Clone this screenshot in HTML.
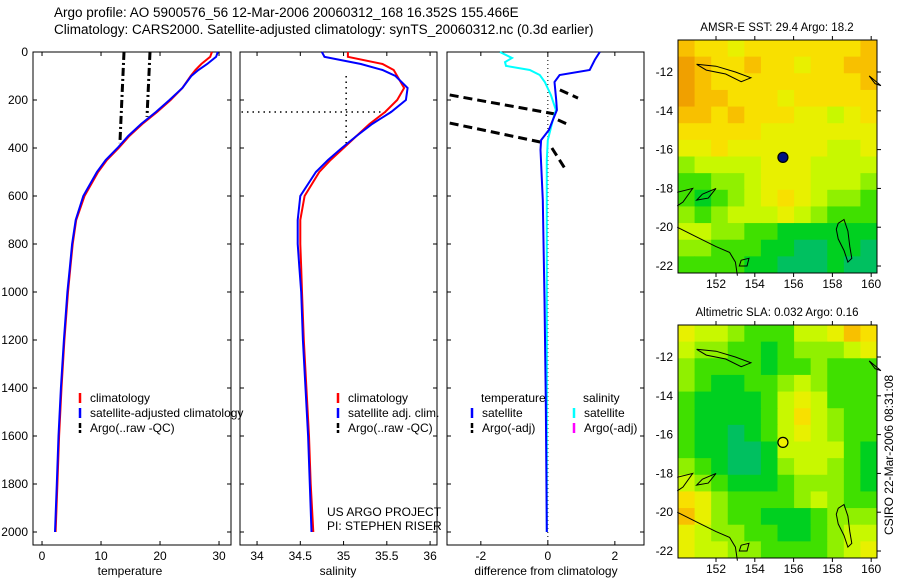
<!DOCTYPE html>
<html><head><meta charset="utf-8"><style>
body{margin:0;background:#fff;}
svg{display:block;font-family:"Liberation Sans",sans-serif;}
text{font-size:12px;fill:#000;}
</style></head><body>
<svg id="c" width="900" height="580" viewBox="0 0 900 580">
<text x="54" y="17" style="font-size:13.5px">Argo profile: AO 5900576_56 12-Mar-2006 20060312_168 16.352S 155.466E</text>
<text x="54" y="34" style="font-size:13.5px">Climatology: CARS2000. Satellite-adjusted climatology: synTS_20060312.nc (0.3d earlier)</text>
<text x="130" y="575" text-anchor="middle">temperature</text>
<text x="338" y="575" text-anchor="middle">salinity</text>
<text x="546" y="575" text-anchor="middle">difference from climatology</text>
<text x="327" y="516">US ARGO PROJECT</text>
<text x="327" y="530">PI: STEPHEN RISER</text>
<text x="777" y="31" text-anchor="middle" style="font-size:11.5px">AMSR-E SST: 29.4 Argo: 18.2</text>
<text x="777" y="316" text-anchor="middle" style="font-size:11.5px">Altimetric SLA: 0.032 Argo: 0.16</text>
<text transform="translate(893,455) rotate(-90)" text-anchor="middle">CSIRO 22-Mar-2006 08:31:08</text>
</svg>
<script>
// ---- data ----
const depth=[0,20,50,75,100,150,200,250,300,350,400,450,500,600,700,800,900,1000,1200,1400,1600,1800,2000];
const tempClim=[28.8,28.5,27.0,26.0,25.2,23.8,21.8,19.5,17.0,14.8,13.0,11.0,9.5,7.2,5.8,5.2,4.8,4.4,3.8,3.3,2.9,2.6,2.3];
const tempSat=[29.8,29.5,28.0,26.5,25.3,23.8,21.6,19.3,16.8,14.6,12.8,10.8,9.3,7.0,5.7,5.1,4.7,4.3,3.7,3.2,2.8,2.5,2.2];
const salClim=[35.05,35.05,35.45,35.58,35.62,35.70,35.62,35.48,35.3,35.15,35.0,34.85,34.72,34.55,34.5,34.5,34.51,34.52,34.54,34.57,34.6,34.62,34.65];
const salSat=[34.75,34.78,35.2,35.45,35.6,35.74,35.72,35.55,35.33,35.15,34.98,34.82,34.68,34.5,34.47,34.47,34.49,34.51,34.53,34.56,34.59,34.61,34.63];
const depthTD=[0,33,75,96,125,200,242,283,325,367,408,617,1033,1450,2000];
const tempDiff=[1.55,1.4,1.25,0.35,0.2,0.25,0.27,0.15,0.03,-0.2,-0.22,-0.15,-0.1,-0.06,-0.03];
const depthSD=[0,25,42,58,75,96,125,179,242,283,367,450,1000,2000];
const salDiff=[-1.43,-1.07,-1.28,-1.25,-0.54,-0.24,-0.09,0.09,0.24,0.15,0,-0.03,-0.03,-0.03];
const argoTempA=[[0,13.9],[380,13.2]];
const argoTempB=[[0,18.3],[270,17.8]];
const argoDiffSegs=[[179,-2.93,262,0.36],[296,-2.93,379,-0.09],[158,0.36,192,0.9],[283,0.3,300,0.57],[400,0.12,483,0.5]];
const depthTicks=[0,200,400,600,800,1000,1200,1400,1600,1800,2000];
const tempTicks=[0,10,20,30];
const salTicks=[34,34.5,35,35.5,36];
const diffTicks=[-2,0,2];
const lonTicks=[152,154,156,158,160];
const latTicks=[-12,-14,-16,-18,-20,-22];
const sstGrid=["877677777778","987787767788","987777777778","988777677777","887877766567","777776666666","667666666556","455556665555","334456665554","323456765443","434555654333","554433222222","443332211221","333322111211"];
const slaGrid=["655433355687","544332344456","433332334333","432233454333","322223565333","322223575433","322123565433","322112555532","432112455432","543222344432","764333345433","864332223444","654433223455","655443333456"];
const palette=["#00b0a0","#00c060","#00d020","#40e000","#90f000","#c8f800","#e8f000","#f8e000","#f8c000","#f0a000"];

const NS="http://www.w3.org/2000/svg";
const svg=document.getElementById('c');
function mk(tag,attrs,parent){const e=document.createElementNS(NS,tag);for(const k in attrs)e.setAttribute(k,attrs[k]);(parent||svg).appendChild(e);return e;}
const yD=d=>52+d*0.24;
const FB=545;
const P1={x0:33,x1:231,v0:-1.53,v1:32.03};
const P2={x0:240,x1:437,v0:33.803,v1:36.08};
const P3={x0:447,x1:644,v0:-3.01,v1:2.87};
const sx=(p,v)=>p.x0+(v-p.v0)/(p.v1-p.v0)*(p.x1-p.x0);

function frame(p,name,ticks,labelLeft){
  const r=mk('rect',{x:p.x0,y:52,width:p.x1-p.x0,height:FB-52,fill:'none',stroke:'#000','stroke-width':1});
  
  
  ticks.forEach(t=>{const x=sx(p,t);
    mk('line',{x1:x,x2:x,y1:52,y2:56,stroke:'#000'});mk('line',{x1:x,x2:x,y1:FB-4,y2:FB,stroke:'#000'});
    const tx=mk('text',{x:x,y:560,'text-anchor':'middle'});tx.textContent=t;
    
    });
  depthTicks.forEach(d=>{const y=yD(d);
    mk('line',{x1:p.x0,x2:p.x0+4,y1:y,y2:y,stroke:'#000'});mk('line',{x1:p.x1-4,x2:p.x1,y1:y,y2:y,stroke:'#000'});
    if(labelLeft){const tx=mk('text',{x:28,y:y+4,'text-anchor':'end'});tx.textContent=d;
      
      }});
}
function line(p,vals,deps,color,w,name,dash){
  const pts=vals.map((v,i)=>sx(p,v).toFixed(1)+','+yD(deps[i]).toFixed(1)).join(' ');
  const e=mk('polyline',{points:pts,fill:'none',stroke:color,'stroke-width':w});
  if(dash)e.setAttribute('stroke-dasharray',dash);
  
  
}
frame(P1,'temperature-panel',tempTicks,true);
frame(P2,'salinity-panel',salTicks,false);
frame(P3,'difference-panel',diffTicks,false);
const zl=mk('line',{x1:sx(P3,0),x2:sx(P3,0),y1:52,y2:FB,stroke:'#000','stroke-dasharray':'1,3'});



line(P1,argoTempA.map(a=>a[1]),argoTempA.map(a=>a[0]),'#000',3,'argo-temperature-raw-a','8,3,2,3');
line(P1,argoTempB.map(a=>a[1]),argoTempB.map(a=>a[0]),'#000',3,'argo-temperature-raw-b','8,3,2,3');
line(P1,tempClim,depth,'#f00',2,'temperature-climatology-line');
line(P1,tempSat,depth,'#00f',2,'temperature-satellite-line');

const vd=mk('line',{x1:sx(P2,35.03),x2:sx(P2,35.03),y1:yD(100),y2:yD(380),stroke:'#000','stroke-dasharray':'1.5,4','stroke-width':1.5});


const hd=mk('line',{x1:sx(P2,33.82),x2:sx(P2,35.55),y1:yD(250),y2:yD(250),stroke:'#000','stroke-dasharray':'1.5,4','stroke-width':1.5});


line(P2,salClim,depth,'#f00',2,'salinity-climatology-line');
line(P2,salSat,depth,'#00f',2,'salinity-satellite-line');

argoDiffSegs.forEach(s=>{
  const e=mk('line',{x1:sx(P3,s[1]),y1:yD(s[0]),x2:sx(P3,s[3]),y2:yD(s[2]),stroke:'#000','stroke-width':3,'stroke-dasharray':'9,5'});
  
  
});
line(P3,salDiff,depthSD,'#0ff',2,'salinity-difference-line');
line(P3,tempDiff,depthTD,'#00f',2,'temperature-difference-line');

function leg(x,y,color,label,name){
  const l=mk('line',{x1:x,x2:x,y1:y-9,y2:y+1,stroke:color,'stroke-width':2.5});
  if(color==='#000')l.setAttribute('stroke-dasharray','5,2');
  
  
  if(label){const t=mk('text',{x:x+10,y:y});t.textContent=label;
    
    }
}
leg(80,402,'#f00','climatology','legend-climatology');
leg(80,417,'#00f','satellite-adjusted climatology','legend-satellite');
leg(80,432,'#000','Argo(..raw -QC)','legend-argo');
leg(338,402,'#f00','climatology','legend2-climatology');
leg(338,417,'#00f','satellite adj. clim.','legend2-satellite');
leg(338,432,'#000','Argo(..raw -QC)','legend2-argo');
const th=mk('text',{x:481,y:402});th.textContent='temperature';


const sh=mk('text',{x:583,y:402});sh.textContent='salinity';


leg(472,417,'#00f','satellite','legend3-temp-satellite');
leg(472,432,'#000','Argo(-adj)','legend3-temp-argo');
leg(574,417,'#0ff','satellite','legend3-sal-satellite');
leg(574,432,'#f0f','Argo(-adj)','legend3-sal-argo');

function map(y0,grid,name,dot){
  const M={x0:678,x1:877,y0:y0,y1:y0+233,lon0:150.04,lon1:160.3,lat0:-10.35,lat1:-22.36};
  const mx=l=>M.x0+(l-M.lon0)/(M.lon1-M.lon0)*(M.x1-M.x0);
  const my=l=>M.y0+(l-M.lat0)/(M.lat1-M.lat0)*(M.y1-M.y0);
  const rows=grid.length,cols=grid[0].length,cw=(M.x1-M.x0)/cols,ch=(M.y1-M.y0)/rows;
  grid.forEach((r,i)=>{for(let j=0;j<cols;j++){
    const c=mk('rect',{x:M.x0+j*cw,y:M.y0+i*ch,width:cw+0.5,height:ch+0.5,fill:palette[+r[j]]});
    
    }});
  const coasts=[
    [[158.3,-19.8],[158.6,-19.6],[158.8,-20.2],[158.9,-21.0],[159.0,-21.6],[158.8,-21.8],[158.6,-21.2],[158.3,-20.6],[158.2,-20.1],[158.3,-19.8]],
    [[150.0,-20.0],[151.0,-20.5],[152.0,-21.0],[152.7,-21.3],[153.0,-21.8],[153.1,-22.5]],
    [[151.0,-11.6],[152.0,-11.7],[153.0,-12.0],[153.8,-12.3],[153.3,-12.5],[152.5,-12.1],[151.5,-11.9],[151.0,-11.6]],
    [[151.3,-18.3],[152.0,-18.0],[151.6,-18.5],[151.0,-18.6],[151.3,-18.3]],
    [[150.0,-18.2],[150.8,-18.0],[150.3,-18.7],[150.0,-18.9]],
    [[159.9,-12.2],[160.5,-12.7],[160.2,-12.6],[159.9,-12.2]],
    [[153.3,-21.7],[153.7,-21.6],[153.6,-22.0],[153.2,-22.0],[153.3,-21.7]]];
  coasts.forEach(cs=>{const e=mk('polyline',{points:cs.map(p=>mx(p[0]).toFixed(1)+','+my(p[1]).toFixed(1)).join(' '),fill:'none',stroke:'#000','stroke-width':1});
    
    });
  const f=mk('rect',{x:M.x0,y:M.y0,width:M.x1-M.x0,height:M.y1-M.y0,fill:'none',stroke:'#000'});
  
  
  lonTicks.forEach(l=>{const x=mx(l);mk('line',{x1:x,x2:x,y1:M.y1,y2:M.y1+4,stroke:'#000'});mk('line',{x1:x,x2:x,y1:M.y0-4,y2:M.y0,stroke:'#000'});
    const t=mk('text',{x:x,y:M.y1+15,'text-anchor':'middle','font-size':'11.5'});t.textContent=l;
    
    });
  latTicks.forEach(l=>{const y=my(l);mk('line',{x1:M.x1,x2:M.x1+4,y1:y,y2:y,stroke:'#000'});
    const t=mk('text',{x:M.x0-5,y:y+4,'text-anchor':'end','font-size':'11.5'});t.textContent=l;
    
    });
  const d=mk('circle',{cx:mx(155.45),cy:my(-16.4),r:5,fill:dot,stroke:'#000','stroke-width':1.2});
  
  
}
map(40,sstGrid,'sst-map','#001080');
map(325,slaGrid,'sla-map','#f0f000');
</script>
</body></html>
